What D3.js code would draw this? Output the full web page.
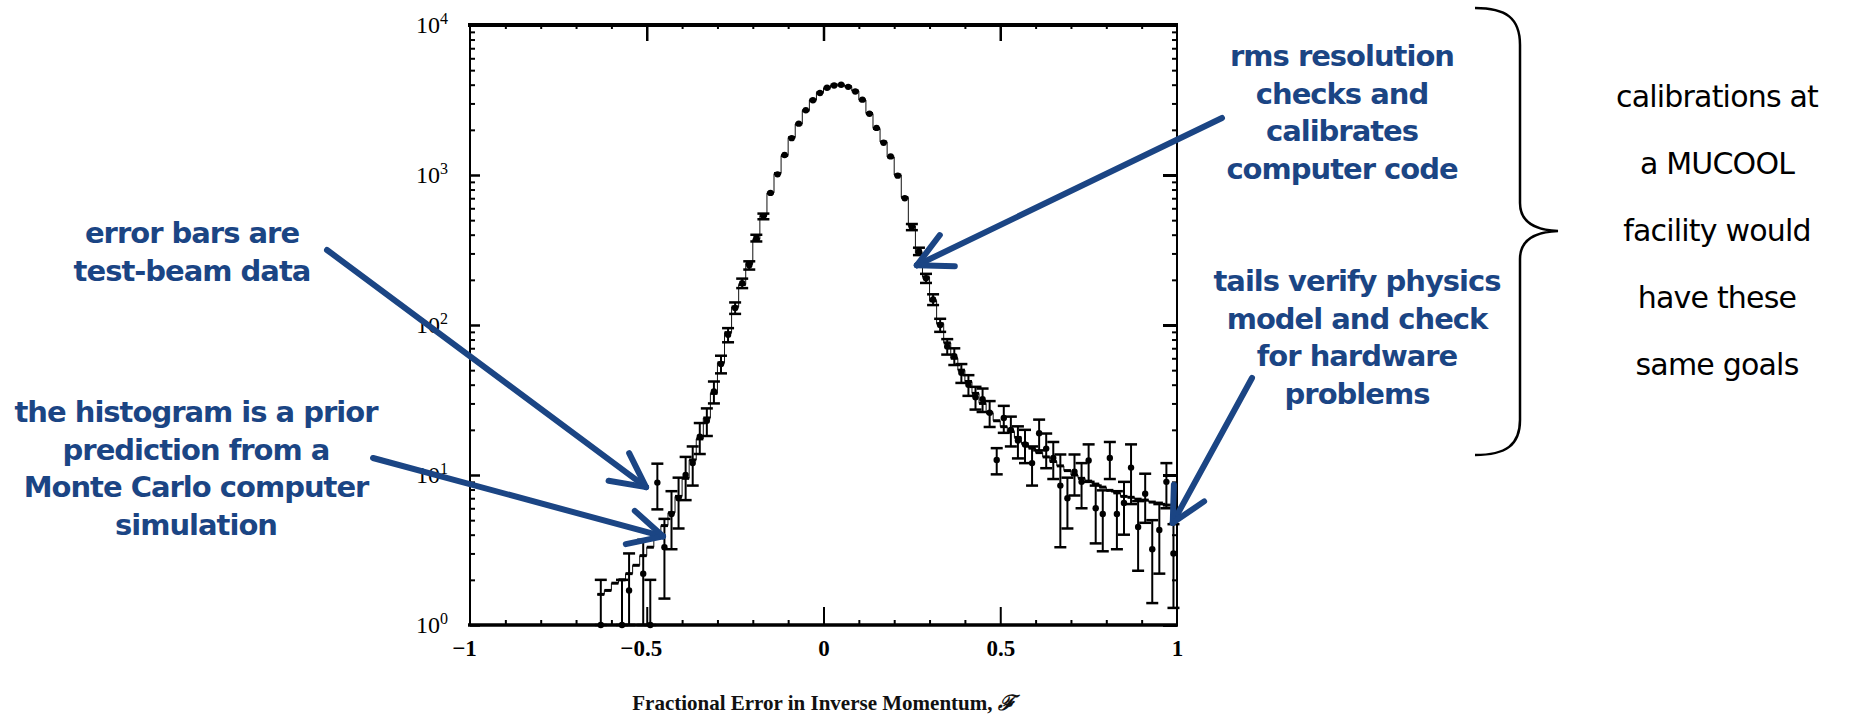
<!DOCTYPE html>
<html>
<head>
<meta charset="utf-8">
<script src="https://cdn.jsdelivr.net/npm/d3@7"></script>
<style>
  html, body { margin: 0; padding: 0; background: #fff; }
  svg { display: block; }
</style>
</head>
<body>
<svg id="chart" width="1867" height="723"></svg>
<script>
// bin centres of the histogram (fractional error in 1/p)
const binCenters = [-0.63,-0.61,-0.59,-0.57,-0.55,-0.53,-0.51,-0.49,-0.47,-0.45,
  -0.43,-0.41,-0.39,-0.37,-0.35,-0.33,-0.31,-0.29,-0.27,-0.25,
  -0.23,-0.21,-0.19,-0.17,-0.15,-0.13,-0.11,-0.09,-0.07,-0.05,
  -0.03,-0.01,0.01,0.03,0.05,0.07,0.09,0.11,0.13,0.15,
  0.17,0.19,0.21,0.23,0.25,0.27,0.29,0.31,0.33,0.35,
  0.37,0.39,0.41,0.43,0.45,0.47,0.49,0.51,0.53,0.55,
  0.57,0.59,0.61,0.63,0.65,0.67,0.69,0.71,0.73,0.75,
  0.77,0.79,0.81,0.83,0.85,0.87,0.89,0.91,0.93,0.95,
  0.97,0.99];

// Monte Carlo prediction (histogram)
const mcCounts = [1.6,1.7,1.9,2.0,2.2,2.5,2.9,3.3,3.8,4.6,
  5.6,7.2,9.5,12.6,17.4,24,35,56,89,132,
  186,257,372,537,759,1023,1349,1778,2188,2692,
  3162,3548,3802,3981,3981,3890,3631,3162,2570,2042,
  1660,1318,1000,708,457,302,209,145,102,76,
  60,50,42,35,30,26,23,21,19.5,17.8,
  16.2,15.1,14.1,13.2,12.3,11.5,10.7,10.0,9.5,9.1,
  8.7,8.3,7.9,7.6,7.2,7.1,6.9,6.8,6.6,6.5,
  6.3,6.3];

// test-beam data points (null = empty bin)
const dataCounts = [1,null,null,1,1.7,null,2.2,1,8.9,3.3,
  5.5,7,10,12,18,23,36,55,86,130,
  190,250,380,530,760,1010,1360,1760,2200,2700,
  3150,3520,3820,3950,4000,3870,3600,3180,2560,2060,
  1640,1330,990,700,450,310,205,148,100,72,
  62,48,40,33,32,26,12.6,24,20,17,
  16,12,19,15,13,8.5,7,10.5,9,12.5,
  6,5.5,13,5.5,6.5,11.2,4.5,7.5,3.2,4.3,
  9,3];

const dataErrors = [1,null,null,1,1.3,null,1.5,1,3,1.8,
  2.3,2.6,3.2,3.5,4.2,4.8,6,7.4,9.3,11.4,
  13.8,15.8,19.5,23,27.6,31.8,36.9,42,46.9,52,
  56.1,59.3,61.8,62.8,63.2,62.2,60,56.4,50.6,45.4,
  40.5,36.5,31.5,26.5,21.2,17.6,14.3,12.2,10,8.5,
  7.9,6.9,6.3,5.7,5.7,5.1,2.5,4.9,4.5,4.1,
  4,3.5,4.4,3.9,3.6,5.2,2.6,3.2,3,3.5,
  2.5,2.4,3.6,2.3,2.5,4.8,2.2,2.7,1.8,2.1,
  3,1.7];

const binWidth = 0.02;

const yTickValues = [1, 10, 100, 1000, 10000];
const yMinorTicks = [2,3,4,5,6,7,8,9,20,30,40,50,60,70,80,90,
  200,300,400,500,600,700,800,900,2000,3000,4000,5000,6000,7000,8000,9000];
const xTickValues = [-1, -0.5, 0, 0.5, 1];
const xTickLabels = ['\u22121', '\u22120.5', '0', '0.5', '1'];
const xMajorMarks = [-0.5, 0, 0.5];
const xMinorTicks = [-0.9,-0.8,-0.7,-0.6,-0.4,-0.3,-0.2,-0.1,0.1,0.2,0.3,0.4,0.6,0.7,0.8,0.9];

const W = 1867, H = 723;
const margin = { top: 25, right: 690, bottom: 98, left: 470 };
const innerW = W - margin.left - margin.right;
const innerH = H - margin.top - margin.bottom;

const blue = '#1b4584';
const serif = "'Liberation Serif', 'DejaVu Serif', serif";

const svg = d3.select('#chart');
svg.append('rect').attr('width', W).attr('height', H).attr('fill', '#fff');

const x = d3.scaleLinear().domain([-1, 1]).range([margin.left, margin.left + innerW]);
const y = d3.scaleLog().domain([1, 1e4]).range([margin.top + innerH, margin.top]).clamp(true);
const yc = v => y(Math.max(v, 1));

const plot = svg.append('g').attr('class', 'plot');

// histogram (MC prediction)
const stepPts = binCenters.map((c, i) => [c - binWidth / 2, mcCounts[i]]);
stepPts.push([binCenters[binCenters.length - 1] + binWidth / 2, mcCounts[mcCounts.length - 1]]);
const step = d3.line()
  .curve(d3.curveStepAfter)
  .x(d => x(d[0]))
  .y(d => yc(d[1]));
plot.append('path')
  .attr('d', step(stepPts))
  .attr('fill', 'none')
  .attr('stroke', '#111')
  .attr('stroke-width', 1);

plot.selectAll('.mc-top')
  .data(binCenters)
  .enter()
    .append('line')
    .attr('class', 'mc-top')
    .attr('x1', d => x(d - binWidth / 2))
    .attr('x2', d => x(d + binWidth / 2))
    .attr('y1', (d, i) => yc(mcCounts[i]))
    .attr('y2', (d, i) => yc(mcCounts[i]))
    .attr('stroke', '#000')
    .attr('stroke-width', 3);

// data points with error bars
const pts = binCenters
  .map((c, i) => ({ x: c, v: dataCounts[i], e: dataErrors[i] }))
  .filter(d => d.v !== null);

const bars = plot.selectAll('.err')
  .data(pts.filter(d => yc(d.v - d.e) - yc(d.v + d.e) > 5))
  .enter()
    .append('g')
    .attr('class', 'err');
bars.append('line')
  .attr('x1', d => x(d.x)).attr('x2', d => x(d.x))
  .attr('y1', d => yc(d.v + d.e)).attr('y2', d => yc(d.v - d.e))
  .attr('stroke', '#000').attr('stroke-width', 2);
bars.append('line')
  .attr('x1', d => x(d.x) - 6).attr('x2', d => x(d.x) + 6)
  .attr('y1', d => yc(d.v + d.e)).attr('y2', d => yc(d.v + d.e))
  .attr('stroke', '#000').attr('stroke-width', 2.5);
bars.append('line')
  .attr('x1', d => x(d.x) - 6).attr('x2', d => x(d.x) + 6)
  .attr('y1', d => yc(d.v - d.e)).attr('y2', d => yc(d.v - d.e))
  .attr('stroke', '#000').attr('stroke-width', 2.5);

plot.selectAll('.pt')
  .data(pts)
  .enter()
    .append('circle')
    .attr('class', 'pt')
    .attr('cx', d => x(d.x))
    .attr('cy', d => yc(d.v))
    .attr('r', 3.2)
    .attr('fill', '#000');

// frame
const x0 = margin.left, x1 = margin.left + innerW;
const y0 = margin.top, y1 = margin.top + innerH;
const frame = svg.append('g').attr('stroke', '#000');
frame.append('line').attr('x1', x0 - 2).attr('x2', x1 + 1).attr('y1', y0).attr('y2', y0).attr('stroke-width', 4);
frame.append('line').attr('x1', x0 - 2).attr('x2', x1 + 1).attr('y1', y1).attr('y2', y1).attr('stroke-width', 3.5);
frame.append('line').attr('x1', x0).attr('x2', x0).attr('y1', y0).attr('y2', y1).attr('stroke-width', 2);
frame.append('line').attr('x1', x1).attr('x2', x1).attr('y1', y0).attr('y2', y1).attr('stroke-width', 2);

const noDomain = g => g.select('.domain').remove();
const thick = w => g => g.selectAll('.tick line').attr('stroke-width', w);

// log axes, ticks pointing inward
svg.append('g').attr('transform', `translate(${x0},0)`)
  .call(d3.axisRight(y).tickValues(yTickValues).tickSize(10).tickFormat(''))
  .call(noDomain).call(thick(2.5));
svg.append('g').attr('transform', `translate(${x0},0)`)
  .call(d3.axisRight(y).tickValues(yMinorTicks).tickSize(5).tickFormat(''))
  .call(noDomain).call(thick(2));
svg.append('g').attr('transform', `translate(${x1},0)`)
  .call(d3.axisLeft(y).tickValues(yTickValues).tickSize(14).tickFormat(''))
  .call(noDomain).call(thick(3));
svg.append('g').attr('transform', `translate(${x1},0)`)
  .call(d3.axisLeft(y).tickValues(yMinorTicks).tickSize(5).tickFormat(''))
  .call(noDomain).call(thick(2));

// y labels 10^n
const yLab = svg.append('g').attr('transform', `translate(${x0},0)`)
  .call(d3.axisLeft(y).tickValues(yTickValues).tickSize(0).tickPadding(22))
  .call(noDomain);
yLab.selectAll('.tick text')
  .text(null)
  .attr('font-family', serif)
  .attr('font-size', 24)
  .attr('fill', '#000')
  .each(function (d) {
    const t = d3.select(this);
    t.append('tspan').text('10');
    t.append('tspan').attr('font-size', 16).attr('dy', -9).text(Math.round(Math.log10(d)));
  });

// x axes
svg.append('g').attr('transform', `translate(0,${y0})`)
  .call(d3.axisBottom(x).tickValues(xMajorMarks).tickSize(16).tickFormat(''))
  .call(noDomain).call(thick(2.5));
svg.append('g').attr('transform', `translate(0,${y0})`)
  .call(d3.axisBottom(x).tickValues(xMinorTicks).tickSize(4).tickFormat(''))
  .call(noDomain).call(thick(2));
svg.append('g').attr('transform', `translate(0,${y1})`)
  .call(d3.axisTop(x).tickValues(xMajorMarks).tickSize(18).tickFormat(''))
  .call(noDomain).call(thick(2));
svg.append('g').attr('transform', `translate(0,${y1})`)
  .call(d3.axisTop(x).tickValues(xMinorTicks).tickSize(5).tickFormat(''))
  .call(noDomain).call(thick(2));

const xLab = svg.append('g').attr('transform', `translate(0,${y1})`)
  .call(d3.axisBottom(x).tickValues(xTickValues).tickSize(0).tickPadding(15)
    .tickFormat((d, i) => xTickLabels[i]))
  .call(noDomain);
xLab.selectAll('.tick text')
  .attr('font-family', serif)
  .attr('font-size', 23)
  .attr('font-weight', 'bold')
  .attr('fill', '#000')
  .attr('dx', d => d < 0 ? -6 : 0);

const title = svg.append('text')
  .attr('x', (x0 + x1) / 2)
  .attr('y', 710)
  .attr('text-anchor', 'middle')
  .attr('font-family', serif)
  .attr('font-size', 21)
  .attr('font-weight', 'bold')
  .attr('fill', '#111');
title.append('tspan').text('Fractional Error in Inverse Momentum, ');
title.append('tspan').attr('font-style', 'italic').text('\u2131');

// annotations
const notes = [
  { cx: 1342, lines: ['rms resolution', 'checks and', 'calibrates', 'computer code'], top: 56 },
  { cx: 1357, lines: ['tails verify physics', 'model and check', 'for hardware', 'problems'], top: 281 },
  { cx: 192, lines: ['error bars are', 'test-beam data'], top: 233 },
  { cx: 196, lines: ['the histogram is a prior', 'prediction from a', 'Monte Carlo computer', 'simulation'], top: 412 },
];
notes.forEach(n => {
  svg.append('g').selectAll('text')
    .data(n.lines)
    .enter()
      .append('text')
      .attr('x', n.cx)
      .attr('y', (d, i) => n.top + i * 37.5 + 10)
      .attr('text-anchor', 'middle')
      .attr('font-family', "'DejaVu Sans', Verdana, sans-serif")
      .attr('font-weight', 'bold')
      .attr('font-size', 29)
      .attr('letter-spacing', -1)
      .attr('fill', blue)
      .text(d => d);
});

// arrows: tail in page space, tip on the data
const arrows = [
  { from: [1222, 118], tip: [0.264, 250] },
  { from: [327, 250], tip: [-0.502, 8.3] },
  { from: [373, 458], tip: [-0.454, 3.9] },
  { from: [1252, 378], tip: [0.988, 4.8] },
];
const arrowG = svg.append('g')
  .attr('stroke', blue)
  .attr('stroke-width', 6)
  .attr('stroke-linecap', 'round')
  .attr('fill', 'none');
arrows.forEach(a => {
  const tx = x(a.tip[0]), ty = yc(a.tip[1]);
  const ang = Math.atan2(a.from[1] - ty, a.from[0] - tx);
  const spread = 27 * Math.PI / 180, len = 38;
  arrowG.append('line').attr('x1', a.from[0]).attr('y1', a.from[1]).attr('x2', tx).attr('y2', ty);
  [-spread, spread].forEach(s => {
    arrowG.append('line')
      .attr('x1', tx).attr('y1', ty)
      .attr('x2', tx + len * Math.cos(ang + s))
      .attr('y2', ty + len * Math.sin(ang + s));
  });
});

// curly brace
svg.append('path')
  .attr('d', 'M1475,8 C1506,8 1520,18 1520,45 L1520,203 C1520,222 1534,230 1558,231 C1534,232 1520,240 1520,259 L1520,420 C1520,445 1506,455 1475,455')
  .attr('fill', 'none')
  .attr('stroke', '#000')
  .attr('stroke-width', 2.5);

// right-hand text
const sideLines = ['calibrations at', 'a MUCOOL', 'facility would', 'have these', 'same goals'];
svg.append('g').selectAll('text')
  .data(sideLines)
  .enter()
    .append('text')
    .attr('x', 1717)
    .attr('y', (d, i) => 96 + i * 67 + 11)
    .attr('text-anchor', 'middle')
    .attr('font-family', "'DejaVu Sans', Tahoma, sans-serif")
    .attr('font-size', 30)
    .attr('letter-spacing', -0.8)
    .attr('fill', '#000')
    .text(d => d);
</script>
</body>
</html>
